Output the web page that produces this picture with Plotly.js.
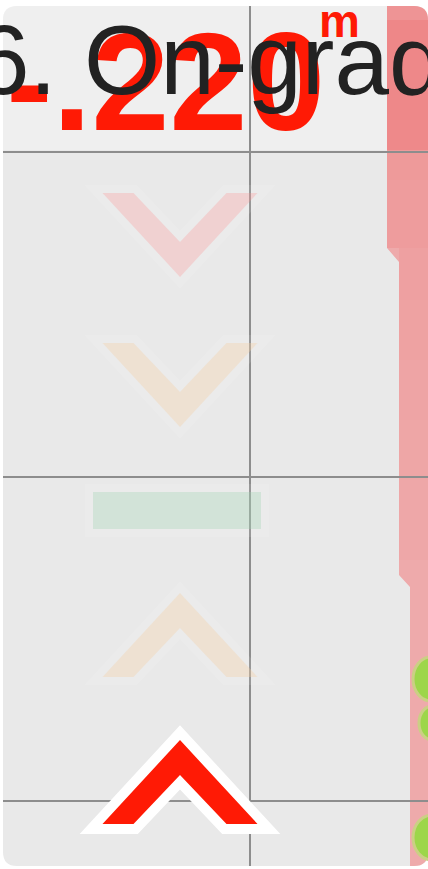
<!DOCTYPE html>
<html>
<head>
<meta charset="utf-8">
<script src="https://cdn.plot.ly/plotly-3.0.1.min.js"></script>
<style>
  html, body { margin: 0; padding: 0; background: #ffffff; }
  #chart { width: 428px; height: 869px; }
</style>
</head>
<body>
<div id="chart"></div>
<script>
// ---- data ----
const titleText = "6. On-grade";
const gradeValue = "-.220";
const gradeUnit = "m";
const indicatorNames = ["cut-high", "cut-low", "on-grade", "fill-low", "fill-high"];
const indicatorDir   = ["down", "down", "flat", "up", "up"];
const indicatorTopY  = [193, 343, 492, 593, 740];
const indicatorColor = ["rgba(255,140,140,0.27)", "rgba(245,205,160,0.32)", "rgba(160,213,176,0.32)", "rgba(245,205,160,0.32)", "#ff1a05"];
const activeIndicator = "fill-high";
const gridX = [250];
const gridY = [152, 477, 801];

// ---- geometry helpers (styling) ----
const CX = 180, W = 155, H = 84, FLAT = 31, NOTCH = 35, BAR_W = 168, BAR_H = 37;

function chevron(dir, top) {
  const l = CX - W / 2, r = CX + W / 2;
  if (dir === "down") {
    return { x: [l, l + FLAT, CX, r - FLAT, r, CX],
             y: [top, top, top + H - NOTCH, top, top, top + H] };
  }
  if (dir === "up") {
    const b = top + H;
    return { x: [CX, r, r - FLAT, CX, l + FLAT, l],
             y: [top, b, b, top + NOTCH, b, b] };
  }
  const l2 = CX - BAR_W / 2 - 3, r2 = CX + BAR_W / 2 - 3;
  return { x: [l2, r2, r2, l2], y: [top, top, top + BAR_H, top + BAR_H] };
}

// miter offset of a closed polygon by d (outwards)
function offsetPoly(xs, ys, d) {
  const n = xs.length;
  let A = 0;
  for (let i = 0; i < n; i++) { const j = (i + 1) % n; A += xs[i] * ys[j] - xs[j] * ys[i]; }
  const sgn = A > 0 ? 1 : -1;
  const lines = [];
  for (let i = 0; i < n; i++) {
    const j = (i + 1) % n;
    let dx = xs[j] - xs[i], dy = ys[j] - ys[i];
    const L = Math.hypot(dx, dy); dx /= L; dy /= L;
    const nx = sgn * dy, ny = -sgn * dx;
    lines.push({ px: xs[i] + nx * d, py: ys[i] + ny * d, ux: dx, uy: dy });
  }
  const ox = [], oy = [];
  for (let i = 0; i < n; i++) {
    const a = lines[(i - 1 + n) % n], b = lines[i];
    const cr = a.ux * b.uy - a.uy * b.ux;
    if (Math.abs(cr) < 1e-9) { ox.push(b.px); oy.push(b.py); continue; }
    const t = ((b.px - a.px) * b.uy - (b.py - a.py) * b.ux) / cr;
    ox.push(a.px + a.ux * t); oy.push(a.py + a.uy * t);
  }
  return { x: ox, y: oy };
}
const closeX = p => p.x.concat([p.x[0]]);
const closeY = p => p.y.concat([p.y[0]]);

const traces = [];
// big reading (drawn in the plot layer so the title stays above it)
traces.push({
  type: "scatter", mode: "text", x: [6], y: [95], text: [gradeValue], textposition: "middle right",
  cliponaxis: false, hoverinfo: "skip", showlegend: false,
  textfont: { family: "Liberation Sans, Arial, sans-serif", size: 140, weight: "bold", color: "#ff1a05" }
});
traces.push({
  type: "scatter", mode: "text", x: [319], y: [25], text: [gradeUnit], textposition: "middle right",
  cliponaxis: false, hoverinfo: "skip", showlegend: false,
  textfont: { family: "Liberation Sans, Arial, sans-serif", size: 46, weight: "bold", color: "#ff1a05" }
});

indicatorNames.forEach((name, i) => {
  const g = chevron(indicatorDir[i], indicatorTopY[i]);
  const active = name === activeIndicator;
  const halo = offsetPoly(g.x, g.y, active ? 10 : 8);
  traces.push({
    type: "scatter", mode: "lines", x: closeX(halo), y: closeY(halo), hoverinfo: "skip", showlegend: false,
    fill: "toself", fillcolor: active ? "#ffffff" : "rgba(255,255,255,0.1)",
    line: { color: "rgba(0,0,0,0)", width: 0 }
  });
  traces.push({
    type: "scatter", mode: "lines", x: closeX(g), y: closeY(g), name: name, showlegend: false,
    fill: "toself", fillcolor: indicatorColor[i],
    line: { color: "rgba(0,0,0,0)", width: 0 }
  });
});

const panelPath = "M 17,6 L 414,6 Q 428,6 428,20 L 428,852 Q 428,866 414,866 L 17,866 Q 3,866 3,852 L 3,20 Q 3,6 17,6 Z";
const topGlowPath = "M 17,6 L 387,6 L 387,150 L 3,150 L 3,20 Q 3,6 17,6 Z";
const stripPath = "M 387,6 L 414,6 Q 428,6 428,20 L 428,852 Q 428,866 414,866 L 410,866 L 410,587 L 399,575 L 399,262 L 387,248 Z";
const stripTopPath = "M 387,6 L 414,6 Q 428,6 428,20 L 428,150 L 387,150 Z";

const shapes = [
  { type: "path", layer: "below", xref: "x", yref: "y", path: panelPath, fillcolor: "#e9e9e9", line: { width: 0 } },
  { type: "path", layer: "below", xref: "x", yref: "y", path: topGlowPath, fillcolor: "rgba(255,255,255,0.3)", line: { width: 0 } },
  { type: "path", layer: "below", xref: "x", yref: "y", path: stripPath, fillcolor: "#eeaaab", line: { width: 0 } },
  { type: "path", layer: "below", xref: "x", yref: "y", path: stripTopPath, fillcolor: "rgba(240,100,100,0.3)", line: { width: 0 } }
];
const bandTops = [6, 60, 120, 180, 248, 300, 360, 420, 480];
const bandAlpha = [0.32, 0.3, 0.26, 0.22, 0.17, 0.13, 0.09, 0.06, 0.03];
bandTops.forEach((t, i) => {
  const b = i < bandTops.length - 1 ? bandTops[i + 1] : 560;
  const left = t < 248 ? 387 : 399;
  shapes.push({ type: "rect", layer: "below", xref: "x", yref: "y",
    x0: left, x1: 428, y0: Math.max(t, 20), y1: b,
    fillcolor: "rgba(240,110,110," + bandAlpha[i] + ")", line: { width: 0 } });
});
shapes.push(
  { type: "circle", layer: "below", xref: "x", yref: "y", x0: 413, x1: 449, y0: 657, y1: 701, fillcolor: "#9dd64a", line: { color: "#cbcf84", width: 3 } },
  { type: "circle", layer: "below", xref: "x", yref: "y", x0: 419, x1: 445, y0: 706, y1: 740, fillcolor: "#9dd64a", line: { color: "#cbcf84", width: 3 } },
  { type: "circle", layer: "below", xref: "x", yref: "y", x0: 413, x1: 451, y0: 815, y1: 860, fillcolor: "#9dd64a", line: { color: "#cbcf84", width: 3 } }
);

const layout = {
  width: 428, height: 869,
  margin: { l: 3, r: 0, t: 6, b: 3, pad: 0 },
  paper_bgcolor: "#ffffff",
  plot_bgcolor: "rgba(0,0,0,0)",
  title: {
    text: titleText,
    xref: "container", yref: "container",
    x: 0.5526, xanchor: "center",
    y: 0.9708, yanchor: "top",
    font: { family: "Liberation Sans, Arial, sans-serif", size: 98, color: "#222222" }
  },
  xaxis: { range: [3, 428], tickmode: "array", tickvals: gridX, showticklabels: false, ticks: "",
           showgrid: true, gridcolor: "#8d8d8d", gridwidth: 2, zeroline: false, showline: false, fixedrange: true },
  yaxis: { range: [866, 6], tickmode: "array", tickvals: gridY, showticklabels: false, ticks: "",
           showgrid: true, gridcolor: "#8d8d8d", gridwidth: 2, zeroline: false, showline: false, fixedrange: true },
  shapes: shapes,
  showlegend: false
};

Plotly.newPlot("chart", traces, layout, { staticPlot: true, displayModeBar: false });
</script>
</body>
</html>
